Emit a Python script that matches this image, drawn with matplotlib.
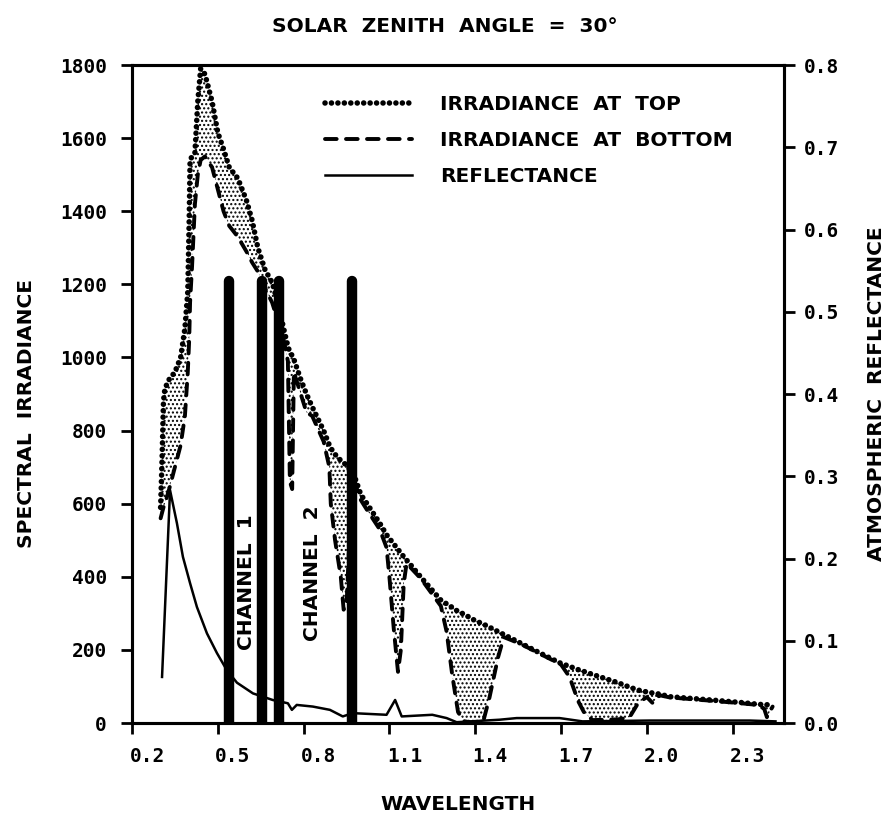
import matplotlib
matplotlib.use("Agg")
import matplotlib.pyplot as plt
from matplotlib.transforms import ScaledTranslation

# ---- data -------------------------------------------------------------
# wavelength grid (micrometres) shared by the two irradiance curves
wavelength = [0.300, 0.305, 0.310, 0.315, 0.330, 0.350, 0.370, 0.385, 0.395,
              0.400, 0.403, 0.410, 0.420, 0.430, 0.440, 0.455, 0.480, 0.500,
              0.520, 0.540, 0.570, 0.600, 0.620, 0.640, 0.665, 0.690, 0.710,
              0.730, 0.745, 0.752, 0.760, 0.766, 0.790, 0.810, 0.830, 0.870,
              0.890, 0.895, 0.910, 0.930, 0.940, 0.950, 0.960, 0.968, 0.980,
              1.000, 1.020, 1.066, 1.090, 1.100, 1.115, 1.130, 1.140, 1.150,
              1.160, 1.210, 1.280, 1.300, 1.320, 1.340, 1.360, 1.400, 1.430,
              1.450, 1.480, 1.500, 1.560, 1.630, 1.700, 1.730, 1.760, 1.780,
              1.810, 1.900, 1.940, 1.970, 2.000, 2.020, 2.045, 2.080, 2.160,
              2.240, 2.330, 2.380, 2.410, 2.420, 2.440]

irradiance_top = [590, 720, 880, 915, 940, 960, 1000, 1080, 1180,
                  1380, 1540, 1550, 1560, 1700, 1790, 1775, 1700, 1615,
                  1570, 1520, 1490, 1430, 1375, 1300, 1240, 1205, 1150,
                  1080, 1030, 1015, 1005, 995, 940, 900, 865, 800,
                  760, 752, 735, 718, 712, 705, 695, 688, 670,
                  625, 602, 547, 515, 505, 490, 475, 465, 455,
                  446, 399, 336, 326, 316, 305, 298, 280, 270,
                  262, 250, 242, 218, 190, 163, 155, 146, 141,
                  133, 110, 98, 90, 85, 82, 79, 72, 67,
                  62, 56, 52, 50, 50, 49]

irradiance_bottom = [560, 575, 590, 600, 640, 700, 760, 840, 960,
                     1050, 1150, 1250, 1420, 1500, 1540, 1550, 1520, 1460,
                     1400, 1360, 1330, 1290, 1260, 1235, 1190, 1150, 1100,
                     1050, 990, 660, 640, 960, 900, 850, 840, 770,
                     700, 600, 500, 400, 310, 320, 500, 670, 655,
                     610, 585, 530, 480, 400, 260, 140, 200, 380,
                     437, 395, 320, 250, 130, 30, 5, 0, 10,
                     70, 180, 235, 216, 188, 160, 126, 60, 30,
                     8, 10, 16, 55, 71, 55, 76, 70, 65,
                     60, 54, 50, 40, 16, 45]

# atmospheric reflectance (right axis)
refl_wavelength = [0.305, 0.333, 0.357, 0.378, 0.403, 0.427, 0.462, 0.497,
                   0.532, 0.567, 0.623, 0.692, 0.745, 0.759, 0.776, 0.832,
                   0.892, 0.937, 0.972, 1.090, 1.120, 1.143, 1.250, 1.300,
                   1.335, 1.485, 1.545, 1.695, 1.775, 2.010, 2.360, 2.450]
reflectance = [0.056, 0.283, 0.243, 0.202, 0.170, 0.141, 0.109, 0.085,
               0.064, 0.049, 0.036, 0.028, 0.024, 0.016, 0.022, 0.020,
               0.016, 0.008, 0.012, 0.010, 0.028, 0.008, 0.010, 0.006,
               0.001, 0.004, 0.006, 0.006, 0.002, 0.003, 0.003, 0.002]

# sensor band edges and their captions
channel_edges = [0.54, 0.655, 0.715, 0.97]
channel_top = 1210
channel_names = ["CHANNEL  1", "CHANNEL  2"]

wl_ticks = [0.2, 0.5, 0.8, 1.1, 1.4, 1.7, 2.0, 2.3]
irr_ticks = [0, 200, 400, 600, 800, 1000, 1200, 1400, 1600, 1800]
refl_ticks = [0.0, 0.1, 0.2, 0.3, 0.4, 0.5, 0.6, 0.7, 0.8]

# ---- figure -----------------------------------------------------------
LABEL_FONT = dict(family="DejaVu Sans", weight="bold", size=14.5)
TICK_FONT = dict(family="DejaVu Sans Mono", weight="bold", size=14)

fig = plt.figure(figsize=(8.92, 8.19), dpi=100)
ax = fig.add_axes([0.148, 0.1172, 0.731, 0.8034])
ax2 = ax.twinx()

# stippled absorption between the two irradiance curves
ax.fill_between(wavelength, irradiance_bottom, irradiance_top,
                facecolor="white", edgecolor="black", hatch="....",
                linewidth=0, zorder=1)
top_line, = ax.plot(wavelength, irradiance_top, color="black", lw=4.0,
                    linestyle=(0, (0.01, 1.15)), dash_capstyle="round",
                    zorder=3)
bottom_line, = ax.plot(wavelength, irradiance_bottom, color="black", lw=2.8,
                       linestyle=(0, (3.0, 2.4)), dash_capstyle="round",
                       zorder=3)
refl_line, = ax2.plot(refl_wavelength, reflectance, color="black", lw=1.8)

for edge in channel_edges:
    ax.plot([edge, edge], [0, channel_top], color="black", lw=7.5,
            solid_capstyle="round", zorder=4)

ax.text(0.600, 385, channel_names[0], rotation=90, ha="center", va="center",
        **LABEL_FONT, zorder=5)
ax.text(0.832, 410, channel_names[1], rotation=90, ha="center", va="center",
        **LABEL_FONT, zorder=5)

# axes ranges and ticks
ax.set_xlim(0.2, 2.48)
ax.set_ylim(0, 1800)
ax2.set_ylim(0, 0.8)

ax.set_xticks(wl_ticks)
ax.set_xticklabels([f"{v:.1f}" for v in wl_ticks], **TICK_FONT)
ax.set_yticks(irr_ticks)
ax.set_yticklabels([str(v) for v in irr_ticks], **TICK_FONT)
ax2.set_yticks(refl_ticks)
ax2.set_yticklabels([f"{v:.1f}" for v in refl_ticks], **TICK_FONT)

ax.tick_params(axis="x", direction="out", length=8, width=2, pad=9)
ax.tick_params(axis="y", direction="out", length=8, width=2, pad=10)
ax2.tick_params(axis="y", direction="out", length=8, width=2, pad=6)

shift = ScaledTranslation(15 / 100, 0, fig.dpi_scale_trans)
for lbl in ax.get_xticklabels():
    lbl.set_transform(lbl.get_transform() + shift)

for a in (ax, ax2):
    for sp in a.spines.values():
        sp.set_linewidth(2.2)

ax.set_xlabel("WAVELENGTH", **LABEL_FONT)
ax.xaxis.set_label_coords(0.50, -0.110)
ax.set_ylabel("SPECTRAL  IRRADIANCE", **LABEL_FONT)
ax.yaxis.set_label_coords(-0.148, 0.47)
ax2.set_ylabel("ATMOSPHERIC  REFLECTANCE", **LABEL_FONT)
ax2.yaxis.set_label_coords(1.127, 0.50)

ax.set_title("SOLAR  ZENITH  ANGLE  =  30°", pad=24, **LABEL_FONT)
ax.title.set_x(0.48)

ax2.legend([top_line, bottom_line, refl_line],
           ["IRRADIANCE  AT  TOP", "IRRADIANCE  AT  BOTTOM", "REFLECTANCE"],
           loc="upper left", bbox_to_anchor=(0.296, 0.955), frameon=False,
           borderpad=0, borderaxespad=0, handlelength=4.3,
           handletextpad=1.4, labelspacing=0.85, prop=LABEL_FONT)

fig.savefig("out.png", dpi=100)
